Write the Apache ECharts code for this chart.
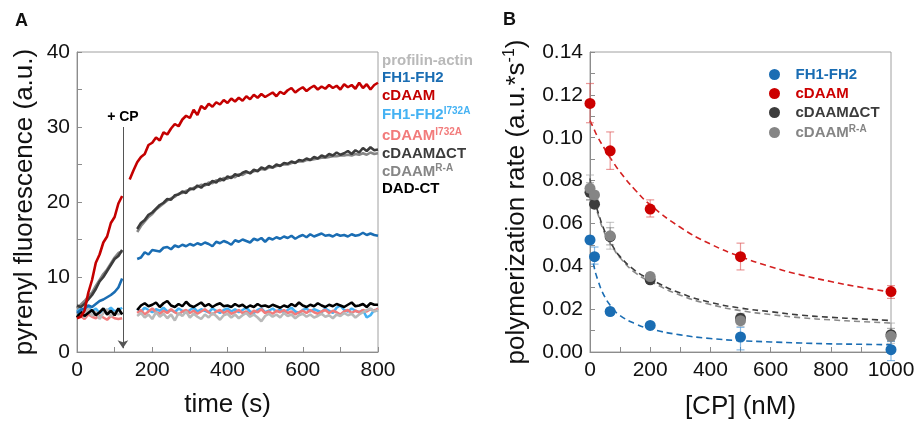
<!DOCTYPE html>
<html><head><meta charset="utf-8">
<script src="https://cdn.jsdelivr.net/npm/echarts@6/dist/echarts.min.js"></script>
<style>html,body{margin:0;padding:0;background:#fff}#c{width:918px;height:421px}</style>
</head><body><div id="c"></div>
<script>
function range(a,b,s){const r=[];for(let t=a;t<=b;t+=s)r.push(t);return r;}
// ---------- Panel A: time courses ----------
const timeEarly=[0,10,20,30,40,50,60,70,80,90,100,110,120];
const timeLateRed=range(140,800,10);
const timeLate=range(160,800,10);

const cDAAM_early=[4.5,4.7,5.5,7.9,9.6,11.9,13.0,14.6,15.4,17.2,18.0,19.8,20.8];
const cDAAM_late=[23.0,24.2,
25.3,26.0,26.4,27.6,27.9,28.6,28.2,29.3,29.0,29.8,
30.4,30.1,31.0,31.5,31.2,32.3,31.6,32.8,32.4,33.1,
32.7,33.3,33.0,33.6,33.2,33.8,33.4,33.9,33.5,34.1,
33.7,34.3,33.9,34.4,34.0,34.3,34.6,34.1,34.7,34.4,
34.9,35.2,34.6,35.0,35.3,34.8,35.2,35.5,35.0,35.4,
35.1,35.6,35.2,35.5,35.0,35.7,35.3,35.6,35.1,35.9,
35.2,35.7,35.0,35.6,35.9];
const dCT_early=[6.2,6.0,6.4,7.0,7.6,8.4,9.4,10.0,10.8,11.6,12.4,12.8,13.6];
const dCT_late=[16.4,17.2,17.6,18.3,18.6,19.1,19.6,19.9,20.4,20.3,
20.9,21.0,21.4,21.2,21.8,21.7,22.2,21.9,22.4,22.3,
22.8,22.6,23.1,22.9,23.4,23.2,23.7,23.5,23.9,24.1,
23.8,24.3,24.1,24.6,24.4,24.8,24.6,25.0,24.8,25.2,
25.1,25.4,25.2,25.6,25.5,25.8,25.6,26.0,25.8,26.2,
26.0,26.4,26.2,26.6,26.3,26.5,26.8,26.4,26.9,26.6,
27.2,26.8,27.3,26.9,27.0];
const RA_early=[5.8,6.3,6.8,7.4,7.9,8.8,9.6,10.4,11.0,11.8,12.6,13.2,13.4];
const RA_late=[16.0,16.8,17.4,18.0,18.4,19.0,19.4,19.8,20.2,20.5,
20.7,21.1,21.2,21.5,21.6,21.9,22.0,22.3,22.2,22.6,
22.5,22.9,22.8,23.2,23.1,23.4,23.3,23.7,23.6,23.9,
23.9,24.1,24.2,24.4,24.3,24.6,24.6,24.8,24.9,25.0,
25.0,25.2,25.3,25.4,25.4,25.6,25.6,25.7,25.8,25.9,
25.9,26.0,26.1,26.1,26.2,26.2,26.3,26.2,26.4,26.3,
26.5,26.3,26.6,26.4,26.5];
const FH_early=[5.2,5.6,5.8,6.2,6.0,6.4,6.8,7.0,7.3,7.6,8.0,8.6,9.8];
const FH_late=[12.4,12.6,13.3,13.0,13.6,13.5,13.4,13.9,14.0,13.7,
14.2,14.0,14.3,14.1,14.4,14.2,14.5,14.3,14.6,14.4,
14.1,14.7,14.5,14.8,14.6,14.3,14.9,14.7,15.0,14.8,
14.6,15.1,14.9,15.2,14.7,15.2,15.0,15.3,15.1,15.4,
15.2,15.5,15.1,15.4,15.6,15.3,15.7,15.4,15.6,15.8,
15.5,15.6,15.4,15.7,15.5,15.6,15.4,15.7,15.5,15.6,
15.9,15.6,15.8,15.6,15.5];
const DAD_early=[4.6,5.4,4.8,5.2,5.6,4.9,5.3,5.8,5.0,5.5,4.9,5.8,5.0];
const DAD_late=[5.6,6.2,6.5,6.1,6.3,6.6,6.0,6.5,6.8,6.2,
6.0,6.4,6.1,6.7,6.2,6.0,6.3,6.6,6.1,6.4,
6.0,6.3,6.5,6.1,6.2,6.0,6.4,6.1,6.3,5.9,
6.2,6.0,6.4,6.1,6.2,6.0,6.3,6.1,5.9,6.2,
6.0,6.4,6.1,6.6,6.2,6.0,6.3,6.1,6.5,6.2,
6.0,6.3,6.1,6.4,6.2,6.0,6.3,6.6,6.1,6.2,
6.4,6.0,6.5,6.3,6.3];
const FHmut_early=[5.4,5.8,5.6,6.0,5.4,5.8,5.2,5.7,5.5,5.9,5.4,5.6,5.9];
const FHmut_late=[5.8,5.4,5.9,5.6,5.3,5.7,5.5,5.9,5.4,5.6,
5.3,5.8,5.5,5.2,5.6,5.9,5.4,5.7,5.5,5.3,
5.8,5.5,5.2,5.6,5.8,5.4,5.7,5.3,5.6,5.9,
5.4,5.2,5.6,5.8,5.3,5.5,5.8,5.4,5.7,5.3,
5.6,5.9,5.4,5.2,5.6,5.8,5.4,5.7,5.5,5.3,
5.8,5.5,5.2,5.9,6.2,5.6,5.4,5.8,5.5,5.3,
5.6,4.6,4.9,5.6,5.5];
const cDmut_early=[4.6,4.8,4.4,5.0,4.7,4.5,4.9,4.6,4.3,4.8,4.5,4.4,4.5];
const cDmut_late=[5.2,5.6,5.0,5.4,5.8,5.3,5.1,5.5,5.2,5.7,
5.3,5.0,5.4,5.6,5.2,5.5,5.1,5.4,5.7,5.3,
5.0,5.4,5.6,5.2,5.5,5.1,5.3,5.6,5.2,5.4,
5.0,5.5,5.3,5.7,5.2,5.4,5.1,5.5,5.3,5.6,
5.2,5.4,5.0,5.3,5.5,5.2,5.6,5.3,5.1,5.4,
5.6,5.2,5.5,5.3,5.0,5.4,5.6,5.2,5.5,5.3,
5.6,5.4,5.7,5.5,5.8];
const prof_early=[5.0,5.6,4.6,5.8,4.8,5.4,4.4,5.2,5.7,4.7,5.3,5.0,5.4];
const prof_late=[4.8,5.2,4.6,5.0,4.4,5.3,4.7,5.1,4.5,5.0,
4.2,5.2,4.8,5.4,4.6,5.1,4.7,4.4,5.0,4.6,
5.2,4.8,4.3,4.9,5.1,4.6,5.0,4.5,4.9,5.2,
4.7,5.0,4.6,4.1,4.8,5.1,4.7,5.0,4.6,5.2,
4.8,5.0,4.5,4.9,5.1,4.7,5.0,4.6,4.8,5.1,
4.7,4.9,4.5,5.0,4.8,5.2,4.9,5.1,4.6,5.0,
5.3,5.6,5.8,5.4,5.6];

const legendA=[
 {name:'profilin-actin',sup:'',color:'#b9b9b9'},
 {name:'FH1-FH2',sup:'',color:'#1a6db3'},
 {name:'cDAAM',sup:'',color:'#c40000'},
 {name:'FH1-FH2',sup:'I732A',color:'#45b2f3'},
 {name:'cDAAM',sup:'I732A',color:'#f27b7b'},
 {name:'cDAAMΔCT',sup:'',color:'#3c3c3c'},
 {name:'cDAAM',sup:'R-A',color:'#868686'},
 {name:'DAD-CT',sup:'',color:'#000000'}
];
const legendAy=[61,78,96,115,136,154,172,189];

// ---------- Panel B: rates vs [CP] ----------
const cp=[0,15,67,200,500,1000];
const rateFH=[0.0523,0.0445,0.0189,0.0124,0.0070,0.0011];
const rateFHlo=[0.0505,0.041,0.0175,0.011,0.001,-0.004];
const rateFHhi=[0.054,0.049,0.020,0.0135,0.0115,0.005];
const rateCD=[0.116,null,0.0939,0.0667,0.0445,0.0282];
const rateCDlo=[0.107,null,0.0852,0.063,0.0383,0.025];
const rateCDhi=[0.1253,null,0.1027,0.071,0.0508,0.031];
const rateDCT=[0.0745,0.069,0.0538,0.0337,0.0158,0.0081];
const rateDCTlo=[0.071,0.067,0.050,0.032,0.013,0.005];
const rateDCThi=[0.079,0.071,0.058,0.036,0.018,0.011];
const rateRA=[0.0764,0.0733,0.0542,0.0352,0.0146,0.0073];
const rateRAlo=[0.071,0.071,0.048,0.034,0.012,0.004];
const rateRAhi=[0.0826,0.075,0.0605,0.037,0.017,0.0135];

const fitX=[0,10,25,50,75,100,150,200,300,400,500,600,700,800,900,1000];
const fitCD=[0.108,0.105,0.1005,0.0945,0.089,0.084,0.0756,0.0687,0.0582,0.0504,0.0445,0.0398,0.036,0.0329,0.0302,0.028];
const fitDCT=[0.081,0.073,0.066,0.056,0.0495,0.0445,0.038,0.034,0.0275,0.0232,0.0205,0.0188,0.0172,0.0162,0.0154,0.0147];
const fitRA=[0.079,0.072,0.065,0.055,0.049,0.044,0.037,0.033,0.0265,0.0222,0.0193,0.0175,0.016,0.015,0.0142,0.0135];
const fitFHX=[5,10,25,50,75,100,150,200,300,400,500,600,700,800,900,1000];
const fitFH=[0.046,0.042,0.034,0.0255,0.0205,0.017,0.0132,0.0108,0.0080,0.0063,0.0053,0.0047,0.0042,0.0038,0.0036,0.0034];

const legendB=['FH1-FH2','cDAAM','cDAAMΔCT','cDAAMR-A'];
const colB={'FH1-FH2':'#1a6db3','cDAAM':'#cc0000','cDAAMΔCT':'#3c3c3c','cDAAMR-A':'#858585'};

// ---------- build ----------
const FONT="'Liberation Sans', Arial, sans-serif";
const zip=(xs,ys)=>xs.map((x,i)=>[x,ys[i]]).filter(p=>p[1]!==null);
function lineA(name,xs,ys,color){
  return {type:'line',name:name,xAxisIndex:0,yAxisIndex:0,data:zip(xs,ys),showSymbol:false,symbol:'none',
    lineStyle:{color:color,width:2.6},itemStyle:{color:color},animation:false,silent:true,z:2};
}
const series=[];
const curves=[
 ['FHmut',timeLate,FHmut_early,FHmut_late,'#45b2f3'],
 ['cDmut',timeLate,cDmut_early,cDmut_late,'#f27b7b'],
 ['prof',timeLate,prof_early,prof_late,'#b9b9b9'],
 ['DAD',timeLate,DAD_early,DAD_late,'#000000'],
 ['FH',timeLate,FH_early,FH_late,'#1a6db3'],
 ['RA',timeLate,RA_early,RA_late,'#868686'],
 ['DCT',timeLate,dCT_early,dCT_late,'#3c3c3c'],
 ['CD',timeLateRed,cDAAM_early,cDAAM_late,'#c40000']
];
curves.forEach(c=>{
  series.push(lineA('a-'+c[0]+'-e',timeEarly,c[2],c[4]));
  series.push(lineA('a-'+c[0]+'-l',c[1],c[3],c[4]));
});
// arrow "+ CP"
series.push({type:'line',name:'a-arrow',xAxisIndex:0,yAxisIndex:0,data:[],silent:true,animation:false,
  markLine:{silent:true,animation:false,symbol:['none','arrow'],symbolSize:8,
    lineStyle:{color:'#555',width:1,type:'solid'},
    label:{show:true,position:'start',formatter:'+ CP',fontWeight:'bold',fontSize:14,color:'#000',fontFamily:FONT,distance:3},
    data:[[{coord:[122,30]},{coord:[122,0.5]}]]}});

function errRender(params,api){
  const x=api.value(0),lo=api.value(1),hi=api.value(2);
  const p1=api.coord([x,hi]),p2=api.coord([x,lo]);
  const w=4;const st={stroke:api.visual('color'),lineWidth:1.2};
  return {type:'group',children:[
    {type:'line',shape:{x1:p1[0],y1:p1[1],x2:p2[0],y2:p2[1]},style:st},
    {type:'line',shape:{x1:p1[0]-w,y1:p1[1],x2:p1[0]+w,y2:p1[1]},style:st},
    {type:'line',shape:{x1:p2[0]-w,y1:p2[1],x2:p2[0]+w,y2:p2[1]},style:st}]};
}
function errSeries(lo,hi,color){
  const d=[];cp.forEach((x,i)=>{if(lo[i]!==null)d.push([x,lo[i],hi[i]]);});
  return {type:'custom',xAxisIndex:1,yAxisIndex:1,renderItem:errRender,data:d,itemStyle:{color:color},
    encode:{x:0,y:[1,2]},silent:true,animation:false,clip:false,z:3};
}
function fitSeries(xs,ys,color){
  return {type:'line',xAxisIndex:1,yAxisIndex:1,data:zip(xs,ys),smooth:true,showSymbol:false,symbol:'none',
    lineStyle:{color:color,width:1.6,type:[6,4]},silent:true,animation:false,z:2};
}
function dotSeries(name,ys){
  return {type:'scatter',name:name,xAxisIndex:1,yAxisIndex:1,data:zip(cp,ys),symbol:'circle',symbolSize:11,
    itemStyle:{color:colB[name],opacity:1},clip:false,silent:true,animation:false,z:4};
}
series.push(fitSeries(fitX,fitCD,'#d42020'));
series.push(fitSeries(fitX,fitRA,'#8a8a8a'));
series.push(fitSeries(fitX,fitDCT,'#3c3c3c'));
series.push(fitSeries(fitFHX,fitFH,'#1a6db3'));
series.push(errSeries(rateCDlo,rateCDhi,'rgba(220,80,80,0.6)'));
series.push(errSeries(rateRAlo,rateRAhi,'rgba(150,150,150,0.5)'));
series.push(errSeries(rateDCTlo,rateDCThi,'rgba(100,100,100,0.5)'));
series.push(errSeries(rateFHlo,rateFHhi,'rgba(60,140,210,0.6)'));
series.push(dotSeries('cDAAMΔCT',rateDCT));
series.push(dotSeries('cDAAMR-A',rateRA));
series.push(dotSeries('FH1-FH2',rateFH));
series.push(dotSeries('cDAAM',rateCD));

const axLine={show:true,lineStyle:{color:'#8c8c8c',width:1}};
const tick={show:true,inside:true,length:5,lineStyle:{color:'#8c8c8c'}};
const minor={show:true,splitNumber:2,length:5,lineStyle:{color:'#8c8c8c'}};
const lab={fontSize:21,color:'#111',fontFamily:FONT};
const nameSt={fontSize:26,color:'#111',fontFamily:FONT};

const richMap={
 n:{fontSize:15,fontWeight:'bold',fontFamily:FONT,lineHeight:17},
 s:{fontSize:10,fontWeight:'bold',fontFamily:FONT,lineHeight:10,verticalAlign:'top'}
};
const graphics=[
 {type:'text',left:15,top:12,style:{text:'A',font:'bold 18px '+FONT,fill:'#111'}},
 {type:'text',left:503,top:11,style:{text:'B',font:'bold 18px '+FONT,fill:'#111'}}
];
legendA.forEach((it,i)=>{
  const rich={n:Object.assign({},richMap.n,{color:it.color}),s:Object.assign({},richMap.s,{color:it.color})};
  graphics.push({type:'text',x:382,y:legendAy[i],silent:true,
    style:{text:'{n|'+it.name+'}'+(it.sup?'{s|'+it.sup+'}':''),rich:rich,fill:it.color,verticalAlign:'middle',align:'left'}});
});

const legendRich={};
legendB.forEach((n,i)=>{
  legendRich['n'+i]=Object.assign({},richMap.n,{color:colB[n]});
  legendRich['s'+i]=Object.assign({},richMap.s,{color:colB[n]});
});

const option={
  animation:false,
  backgroundColor:'#fff',
  textStyle:{fontFamily:FONT},
  grid:[
    {left:77,top:52,width:301,height:300,show:true,borderColor:'#a0a0a0',borderWidth:1,backgroundColor:'transparent',containLabel:false,outerBoundsMode:'none'},
    {left:590,top:52,width:301,height:300,show:true,borderColor:'#a0a0a0',borderWidth:1,backgroundColor:'transparent',containLabel:false,outerBoundsMode:'none'}
  ],
  xAxis:[
    {type:'value',gridIndex:0,min:0,max:800,interval:200,axisLine:axLine,axisTick:tick,minorTick:minor,splitLine:{show:false},
     axisLabel:Object.assign({margin:8,formatter:v=>String(v)},lab),name:'time (s)',nameLocation:'middle',nameGap:40,nameTextStyle:nameSt},
    {type:'value',gridIndex:1,min:0,max:1000,interval:200,axisLine:axLine,axisTick:tick,minorTick:minor,splitLine:{show:false},
     axisLabel:Object.assign({margin:8,formatter:v=>String(v)},lab),name:'[CP] (nM)',nameLocation:'middle',nameGap:42,nameTextStyle:nameSt}
  ],
  yAxis:[
    {type:'value',gridIndex:0,min:0,max:40,interval:10,axisLine:axLine,axisTick:tick,minorTick:minor,splitLine:{show:false},
     axisLabel:Object.assign({margin:7},lab),name:'pyrenyl fluorescence (a.u.)',nameLocation:'middle',nameGap:39,nameTextStyle:nameSt},
    {type:'value',gridIndex:1,min:0,max:0.14,interval:0.02,axisLine:axLine,axisTick:tick,minorTick:minor,splitLine:{show:false},
     axisLabel:Object.assign({margin:7,formatter:v=>v.toFixed(2)},lab),
     name:'{t|polymerization rate (a.u.*s}{s|-1}{t|)}',nameLocation:'middle',nameGap:58,
     nameTextStyle:Object.assign({},nameSt,{rich:{t:{fontSize:26,fontFamily:FONT,color:'#111',lineHeight:30},s:{fontSize:16,fontFamily:FONT,color:'#111',verticalAlign:'top',lineHeight:16}}})}
  ],
  legend:{show:true,orient:'vertical',left:764,top:62,itemWidth:32,itemHeight:11,itemGap:4,icon:'circle',
    data:legendB,selectedMode:false,
    formatter:function(name){const i=legendB.indexOf(name);
      if(name==='cDAAMR-A')return '{n'+i+'|cDAAM}{s'+i+'|R-A}';
      return '{n'+i+'|'+name+'}';},
    textStyle:{fontSize:15,fontWeight:'bold',fontFamily:FONT,rich:legendRich}},
  graphic:graphics,
  series:series
};
const chart=echarts.init(document.getElementById('c'),null,{renderer:'canvas'});
chart.setOption(option);
</script></body></html>
